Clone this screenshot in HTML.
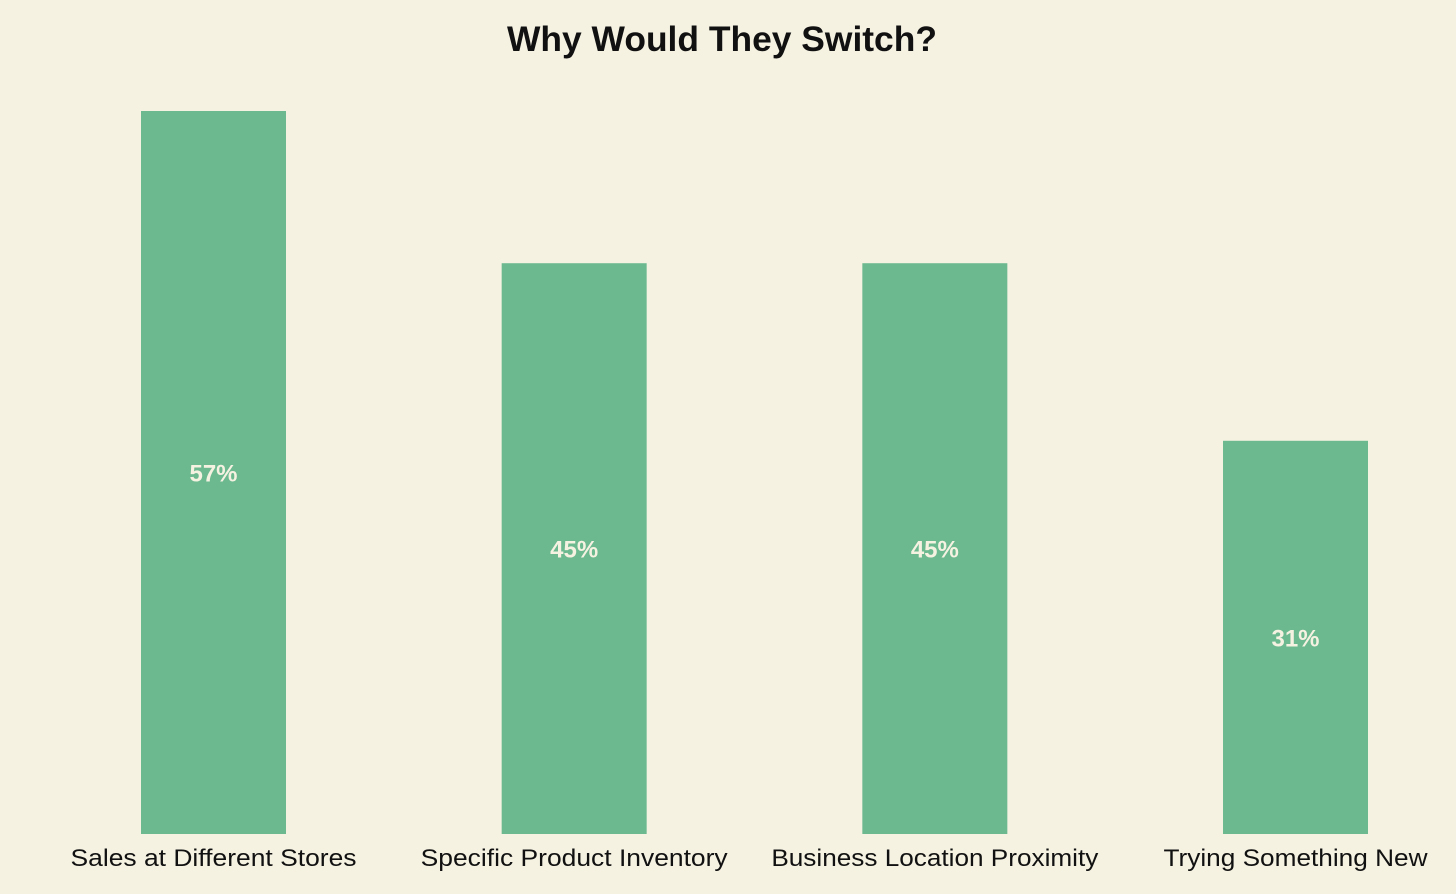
<!DOCTYPE html>
<html><head><meta charset="utf-8">
<style>
html,body{margin:0;padding:0;background:#f5f2e2;}
body{width:1456px;height:889px;overflow:hidden;font-family:"Liberation Sans","DejaVu Sans",sans-serif;}
</style></head>
<body>
<svg id="chart" width="1456" height="889" xmlns="http://www.w3.org/2000/svg">
<rect width="1456" height="889" fill="#f5f2e2"/>
<text x="722" y="51" text-anchor="middle" font-size="35" font-weight="bold" fill="#111" textLength="430" lengthAdjust="spacingAndGlyphs">Why Would They Switch?</text>
<g id="bars"></g>
</svg>
<script>
const categories = ["Sales at Different Stores","Specific Product Inventory","Business Location Proximity","Trying Something New"];
const values = [57,45,45,31];
const valueLabels = ["57%","45%","45%","31%"];

const labelWidths = [286, 307, 327, 264];
const baseY = 834, pxPerUnit = 723/57;
const firstCenter = 213.5, step = 360.67, barW = 145;
function xCenter(i){ return firstCenter + i*step; }
function yScale(v){ return baseY - v*pxPerUnit; }

const g = document.getElementById('bars');
const NS = "http://www.w3.org/2000/svg";
categories.forEach((c,i)=>{
  const cx = xCenter(i), top = yScale(values[i]);
  const r = document.createElementNS(NS,'rect');
  r.setAttribute('x', cx - barW/2);
  r.setAttribute('y', top);
  r.setAttribute('width', barW);
  r.setAttribute('height', baseY - top);
  r.setAttribute('fill', '#6cb98f');
  
  
  g.appendChild(r);
  const t = document.createElementNS(NS,'text');
  t.setAttribute('x', cx);
  t.setAttribute('y', (top + baseY)/2 + 9);
  t.setAttribute('text-anchor','middle');
  t.setAttribute('font-size','24');
  t.setAttribute('font-weight','bold');
  t.setAttribute('fill','#f5f2e2');
  t.textContent = valueLabels[i];
  
  
  g.appendChild(t);
  const l = document.createElementNS(NS,'text');
  l.setAttribute('x', cx);
  l.setAttribute('y', 866);
  l.setAttribute('text-anchor','middle');
  l.setAttribute('font-size','24');
  l.setAttribute('fill','#111');
  l.setAttribute('textLength', labelWidths[i]);
  l.setAttribute('lengthAdjust','spacingAndGlyphs');
  l.textContent = c;
  
  
  g.appendChild(l);
});
</script>
</body></html>
